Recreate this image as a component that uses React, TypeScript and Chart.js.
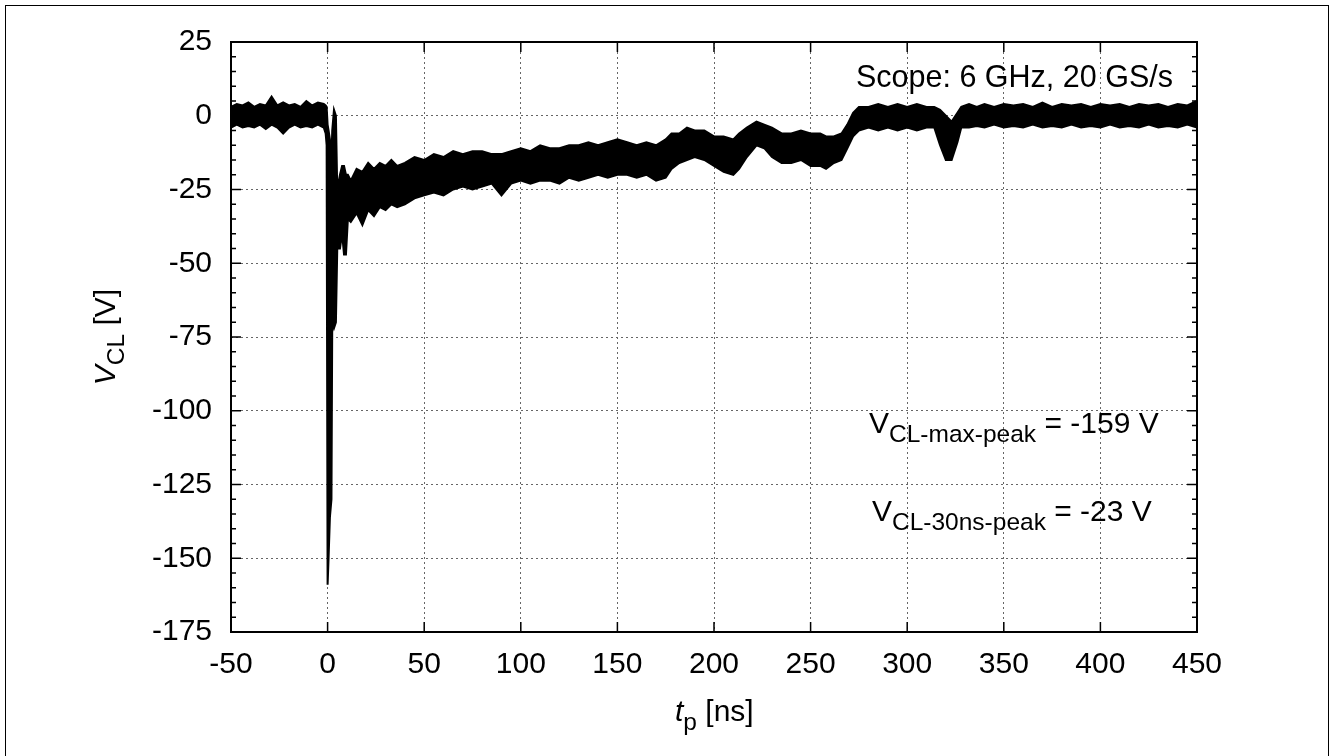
import React, { useEffect, useRef } from "react";
import { Chart, registerables } from "chart.js";

Chart.register(...registerables);

// time samples [ns]
const T = [
  -50, -47, -44, -41, -38, -35, -32, -29, -26, -23, -20, -17, -14, -11, -8, -5, -2, -1,
  -0.5, 0, 0.5, 1.2, 2.0, 2.4, 3.3, 4.3, 5.0, 6.4, 7.5, 8.5, 9.5, 10.5,
  12, 15, 18, 21, 24, 27, 30, 33, 36, 40, 45, 50, 55, 60, 65, 70, 75, 80, 85, 90, 95,
  100, 105, 110, 115, 120, 125, 130, 135, 140, 145, 150, 155, 160, 165, 170, 175, 178,
  182, 186, 190, 195, 200, 205, 210, 213, 217, 222, 226, 230, 235, 240, 245, 250, 255,
  258, 262, 266, 269, 272, 275, 280, 285, 290, 295, 300, 305, 310, 314, 317, 320, 323,
  326, 328, 332, 336, 340, 345, 350, 355, 360, 365, 370, 375, 380, 385, 390, 395, 400,
  405, 410, 415, 420, 425, 430, 435, 440, 445, 450,
];

// upper edge of the measured trace band [V]
const UPPER = [
  3, 4, 3.5, 4.5, 3, 4, 3.5, 6.5, 3.5, 4.5, 3.5, 4, 3, 5, 3.5, 4.5, 4, 3.5,
  3, -3, -5, -8, -15, -5, 2, 0, -25, -20, -17, -17, -20, -20,
  -22, -18, -19, -16, -18, -16, -17, -15, -17, -16, -14, -15, -13, -14, -12, -13, -12, -12, -13, -13, -12,
  -11, -12, -10, -11, -11, -10, -10, -9, -10, -9, -8, -9, -10, -9, -10, -8, -6,
  -6, -4, -5, -5, -7, -7, -8, -6, -4, -2, -3, -4, -6, -6, -5, -6, -6,
  -7, -7, -6, -3, 1, 3, 3, 4, 3, 4, 3, 4, 3, 3, 2, 0, -2,
  1, 3, 4, 3, 4, 3, 4, 3.5, 4, 3, 4.5, 3, 4, 3.5, 4, 3, 4,
  3.5, 4, 3, 4, 3.5, 4, 3, 4, 3.5, 5,
];

// lower edge of the measured trace band [V]
const LOWER = [
  -4, -3, -4, -3.5, -4, -3, -4.5, -3, -4, -6, -4, -3, -4, -3.5, -4, -3, -4, -6,
  -10, -159, -150, -136, -130, -70, -72, -70, -45, -45, -40, -47, -47, -35,
  -36, -33, -37, -32, -34, -31, -32, -30, -31, -30, -28, -27, -26, -27, -25, -24, -25, -24, -23, -27, -23,
  -22, -23, -22, -22, -23, -21, -22, -21, -20, -21, -20, -20, -21, -20, -22, -21, -18,
  -16, -15, -14, -15, -17, -19, -20, -18, -14, -10, -11, -14, -16, -16, -15, -17, -17,
  -18, -16, -15, -11, -7, -5, -4, -5, -4, -5, -4, -5, -4, -4, -10, -15, -15,
  -9, -4, -4, -3.5, -4, -3, -4, -3.5, -4, -3, -4, -3.5, -4, -3, -4, -3.5, -4,
  -3, -4, -3.5, -4, -3, -4, -3.5, -4, -3, -4,
];

const X_TICKS = [-50, 0, 50, 100, 150, 200, 250, 300, 350, 400, 450];
const Y_TICKS = [-175, -150, -125, -100, -75, -50, -25, 0, 25];
const Y_MINOR_PER_MAJOR = 5;

const FONT = '"Liberation Sans", Arial, Helvetica, sans-serif';

const framePlugin = {
  id: "frameTicks",
  afterDatasetsDraw(chart: any) {
    const { ctx, chartArea: a, scales } = chart;
    const xs = scales.x;
    const ys = scales.y;
    ctx.save();
    ctx.strokeStyle = "#000";
    ctx.lineWidth = 1.5;
    ctx.beginPath();
    for (const v of X_TICKS) {
      const px = xs.getPixelForValue(v);
      ctx.moveTo(px, a.bottom);
      ctx.lineTo(px, a.bottom - 10);
      ctx.moveTo(px, a.top);
      ctx.lineTo(px, a.top + 10);
    }
    for (let i = 0; i < Y_TICKS.length; i++) {
      const v = Y_TICKS[i];
      const py = ys.getPixelForValue(v);
      ctx.moveTo(a.left, py);
      ctx.lineTo(a.left + 10, py);
      ctx.moveTo(a.right, py);
      ctx.lineTo(a.right - 10, py);
      if (i < Y_TICKS.length - 1) {
        const step = (Y_TICKS[i + 1] - v) / Y_MINOR_PER_MAJOR;
        for (let k = 1; k < Y_MINOR_PER_MAJOR; k++) {
          const pm = ys.getPixelForValue(v + k * step);
          ctx.moveTo(a.left, pm);
          ctx.lineTo(a.left + 5, pm);
          ctx.moveTo(a.right, pm);
          ctx.lineTo(a.right - 5, pm);
        }
      }
    }
    ctx.stroke();
    ctx.lineWidth = 2;
    ctx.strokeRect(a.left, a.top, a.width, a.height);
    ctx.restore();
  },
};

export default function App() {
  const ref = useRef<HTMLCanvasElement | null>(null);

  useEffect(() => {
    document.body.style.margin = "0";
    if (!ref.current) return;
    const upper = T.map((t, i) => ({ x: t, y: UPPER[i] }));
    const lower = T.map((t, i) => ({ x: t, y: LOWER[i] }));
    const chart = new Chart(ref.current, {
      type: "line",
      data: {
        datasets: [
          {
            data: upper,
            borderColor: "#000",
            backgroundColor: "#000",
            borderWidth: 2,
            pointRadius: 0,
            tension: 0,
            fill: "+1",
          },
          {
            data: lower,
            borderColor: "#000",
            backgroundColor: "#000",
            borderWidth: 2,
            pointRadius: 0,
            tension: 0,
            fill: false,
          },
        ],
      },
      options: {
        responsive: false,
        animation: false,
        devicePixelRatio: 1,
        layout: { padding: { top: 42, right: 133, left: 0, bottom: 0 } },
        plugins: { legend: { display: false }, tooltip: { enabled: false } },
        scales: {
          x: {
            type: "linear",
            min: -50,
            max: 450,
            afterFit: (s: any) => {
              s.height = 124;
            },
            afterBuildTicks: (s: any) => {
              s.ticks = X_TICKS.map((v) => ({ value: v }));
            },
            ticks: {
              font: { family: FONT, size: 30 },
              color: "#000",
              padding: 15,
              maxRotation: 0,
              autoSkip: false,
            },
            grid: { color: "#666", lineWidth: 1, drawTicks: false },
            border: { display: false, dash: [2, 3] },
          },
          y: {
            type: "linear",
            min: -175,
            max: 25,
            afterFit: (s: any) => {
              s.width = 231;
            },
            afterBuildTicks: (s: any) => {
              s.ticks = Y_TICKS.map((v) => ({ value: v }));
            },
            ticks: {
              font: { family: FONT, size: 30 },
              color: "#000",
              padding: 19,
              autoSkip: false,
            },
            grid: { color: "#666", lineWidth: 1, drawTicks: false },
            border: { display: false, dash: [2, 3] },
          },
        },
      },
      plugins: [framePlugin],
    });
    return () => chart.destroy();
  }, []);

  const txt: React.CSSProperties = {
    position: "absolute",
    fontFamily: FONT,
    fontSize: 30,
    lineHeight: "30px",
    whiteSpace: "nowrap",
    color: "#000",
  };
  const sub: React.CSSProperties = { fontSize: 24.5, position: "relative", top: 9 };

  return (
    <div style={{ position: "relative", width: 1330, height: 756, overflow: "hidden", background: "#fff" }}>
      <canvas ref={ref} width={1330} height={756} style={{ position: "absolute", left: 0, top: 0 }} />
      <div
        style={{
          position: "absolute",
          left: 5,
          top: 5,
          width: 1322,
          height: 800,
          border: "1.5px solid #000",
          pointerEvents: "none",
        }}
      />
      <div style={{ ...txt, right: 157, top: 61, fontSize: 30.5 }}>Scope: 6 GHz, 20 GS/s</div>
      <div style={{ ...txt, left: 869, top: 408 }}>
        V<span style={sub}>CL-max-peak</span> = -159 V
      </div>
      <div style={{ ...txt, left: 872, top: 496 }}>
        V<span style={sub}>CL-30ns-peak</span> = -23 V
      </div>
      <div style={{ ...txt, left: 675, top: 696 }}>
        <i>t</i>
        <span style={sub}>p</span> [ns]
      </div>
      <div
        style={{
          ...txt,
          left: 106,
          top: 337,
          transform: "translate(-50%, -50%) rotate(-90deg)",
        }}
      >
        <i>V</i>
        <span style={sub}>CL</span> [V]
      </div>
    </div>
  );
}
